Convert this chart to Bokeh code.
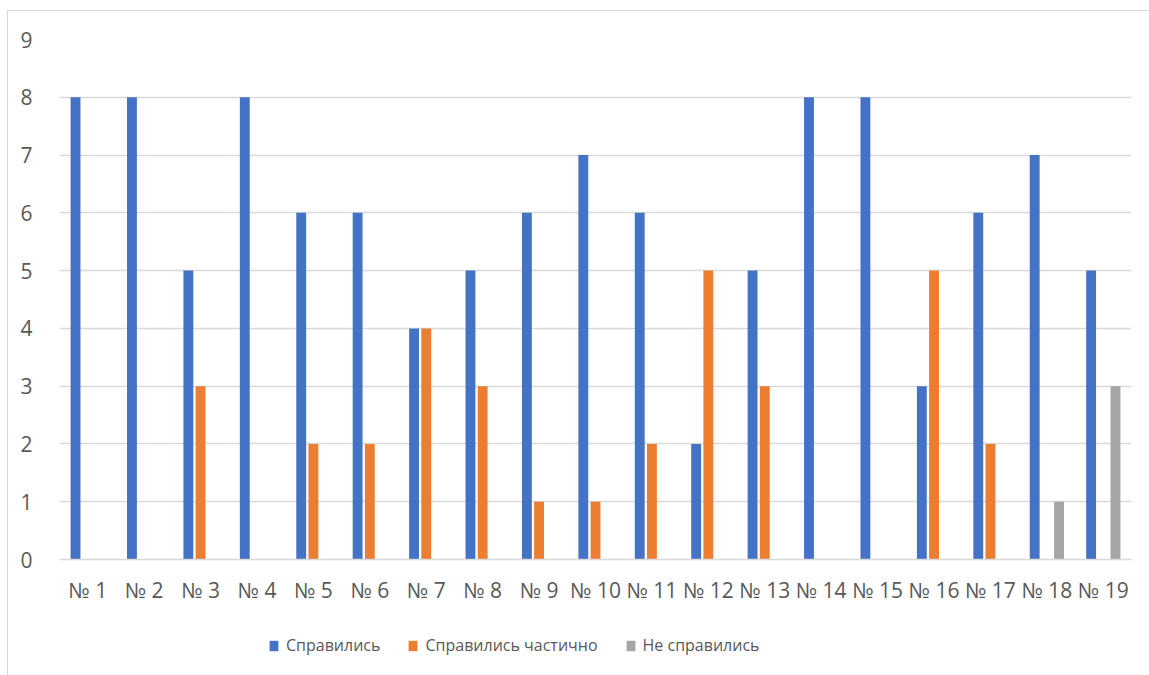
from bokeh.plotting import figure
from bokeh.layouts import column
from bokeh.models import ColumnDataSource, FactorRange, Range1d, Legend, LegendItem
from bokeh.transform import dodge
from bokeh.embed import file_html
from bokeh.resources import INLINE

# Task numbers and pupil counts per result group
tasks = ["№ 1", "№ 2", "№ 3", "№ 4", "№ 5", "№ 6", "№ 7", "№ 8", "№ 9", "№ 10",
         "№ 11", "№ 12", "№ 13", "№ 14", "№ 15", "№ 16", "№ 17", "№ 18", "№ 19"]
done = [8, 8, 5, 8, 6, 6, 4, 5, 6, 7, 6, 2, 5, 8, 8, 3, 6, 7, 5]
partly = [0, 0, 3, 0, 2, 2, 4, 3, 1, 1, 2, 5, 3, 0, 0, 5, 2, 0, 0]
failed = [0, 0, 0, 0, 0, 0, 0, 0, 0, 0, 0, 0, 0, 0, 0, 0, 0, 1, 3]
y_ticks = [0, 1, 2, 3, 4, 5, 6, 7, 8, 9]

series_names = ["Справились", "Справились частично", "Не справились"]
colors = ["#4472C4", "#ED7D31", "#A5A5A5"]

FONT = "Open Sans"
TEXT = "#595959"
GRID = "#D9D9D9"

src = ColumnDataSource(dict(task=tasks, done=done, partly=partly, failed=failed))

# main bar chart
p = figure(
    x_range=FactorRange(*tasks, range_padding=0),
    y_range=Range1d(0, 9),
    width=1141, height=610,
    output_backend="svg", toolbar_location=None,
    min_border_left=51, min_border_right=18,
    min_border_top=28, min_border_bottom=62,
)
p.outline_line_color = None
p.background_fill_color = "white"
p.border_fill_color = "white"

width = 0.175
offsets = [-0.216, 0.0, 0.216]
for col, off, c in zip(["done", "partly", "failed"], offsets, colors):
    p.vbar(x=dodge("task", off, range=p.x_range), top=col, width=width,
           source=src, fill_color=c, line_color=None)

p.xgrid.grid_line_color = None
p.ygrid.grid_line_color = GRID
p.ygrid.grid_line_width = 1.3
p.yaxis.ticker = y_ticks

for ax in (p.xaxis[0], p.yaxis[0]):
    ax.major_tick_line_color = None
    ax.minor_tick_line_color = None
    ax.major_label_text_font = FONT
    ax.major_label_text_font_size = "21px"
    ax.major_label_text_color = TEXT
p.yaxis.axis_line_color = None
p.yaxis.major_label_standoff = 21
p.xaxis.axis_line_color = GRID
p.xaxis.axis_line_width = 1.3
p.xaxis.major_label_standoff = 10

# legend strip underneath the chart; swatch renderers lie far outside its ranges
lg = figure(
    width=1141, height=54, x_range=Range1d(0, 1), y_range=Range1d(0, 1),
    output_backend="svg", toolbar_location=None,
    x_axis_location=None, y_axis_location=None,
    min_border=0,
)
lg.outline_line_color = None
lg.xgrid.grid_line_color = None
lg.ygrid.grid_line_color = None
swatches = [lg.vbar(x=[-50], bottom=[-60], top=[-50], width=0.1,
                    fill_color=c, line_color=None)
            for c in colors]

legend = Legend(
    items=[LegendItem(label=n, renderers=[r]) for n, r in zip(series_names, swatches)],
    location=(209, 19), orientation="horizontal",
    padding=0, margin=0, spacing=27,
    border_line_color=None, background_fill_alpha=0,
    glyph_width=11, glyph_height=13, label_standoff=7,
    label_text_font=FONT, label_text_font_size="16px", label_text_color=TEXT,
)
lg.add_layout(legend, "center")

page = column(p, lg, spacing=0)
page.styles = {
    "margin-left": "7px", "margin-top": "10px",
    "border-top": "1px solid #D9D9D9", "border-left": "1px solid #D9D9D9",
}

open("out.html", "w").write(file_html(page, INLINE))
